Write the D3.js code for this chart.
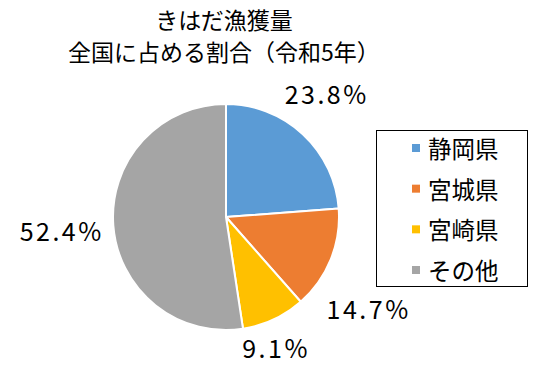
<!DOCTYPE html>
<html><head><meta charset="utf-8">
<script src="https://cdn.jsdelivr.net/npm/d3@7"></script>
<style>
html,body{margin:0;padding:0;background:#fff;}
text{font-family:"Noto Sans CJK JP","Noto Sans",sans-serif;fill:#000;}
</style></head>
<body><svg id="c" width="541" height="366"></svg>
<script>
const categories = ["静岡県","宮城県","宮崎県","その他"];
const values = [23.8, 14.7, 9.1, 52.4];
const colors = ["#5B9BD5","#ED7D31","#FFC000","#A5A5A5"];
const titleLines = ["きはだ漁獲量","全国に占める割合（令和5年）"];

// layout (not data)
const cx = 226, cy = 217, r = 113;
const labelRadius = 158;
const labelNudge = [[-8,-8],[-5,31],[-18,-13],[-8,1]];

const svg = d3.select("#c");
svg.append("rect").attr("width",541).attr("height",366).attr("fill","#fff");

const tg = svg.append("g");
tg.selectAll("text").data(titleLines).join("text")
  .attr("x",224).attr("y",(d,i)=>29+i*32)
  .attr("text-anchor","middle").attr("font-size",23).text(d=>d);

const pie = d3.pie().sort(null).value(d=>d)(values);
const arc = d3.arc().innerRadius(0).outerRadius(r);
const g = svg.append("g").attr("transform",`translate(${cx},${cy})`);
g.selectAll("path").data(pie).join("path")
  .attr("d",arc).attr("fill",(d,i)=>colors[i])
  .attr("stroke","#fff").attr("stroke-width",2).attr("stroke-linejoin","round");

const labArc = d3.arc().innerRadius(labelRadius).outerRadius(labelRadius);
g.selectAll("text.lab").data(pie).join("text").attr("class","lab")
  .attr("transform",(d,i)=>{const c=labArc.centroid(d);return `translate(${c[0]+labelNudge[i][0]+1.25},${c[1]+labelNudge[i][1]})`;})
  .attr("text-anchor","middle").attr("dominant-baseline","central")
  .attr("letter-spacing",2.5)
  .attr("font-size",25).text(d=>d.data.toFixed(1)+"%");

// legend
const lg = svg.append("g");
lg.append("rect").attr("x",376.5).attr("y",130.5).attr("width",151).attr("height",156)
  .attr("fill","#fff").attr("stroke","#000").attr("stroke-width",1);
const ly = d3.scalePoint().domain(categories).range([148,270]);
const items = lg.selectAll("g.it").data(categories).join("g").attr("class","it")
  .attr("transform",d=>`translate(0,${ly(d)})`);
items.append("rect").attr("x",412).attr("y",-4).attr("width",8).attr("height",8)
  .attr("fill",(d,i)=>colors[i]);
items.append("text").attr("x",428).attr("y",0).attr("dominant-baseline","central")
  .attr("font-size",23.5).text(d=>d);
</script></body></html>
